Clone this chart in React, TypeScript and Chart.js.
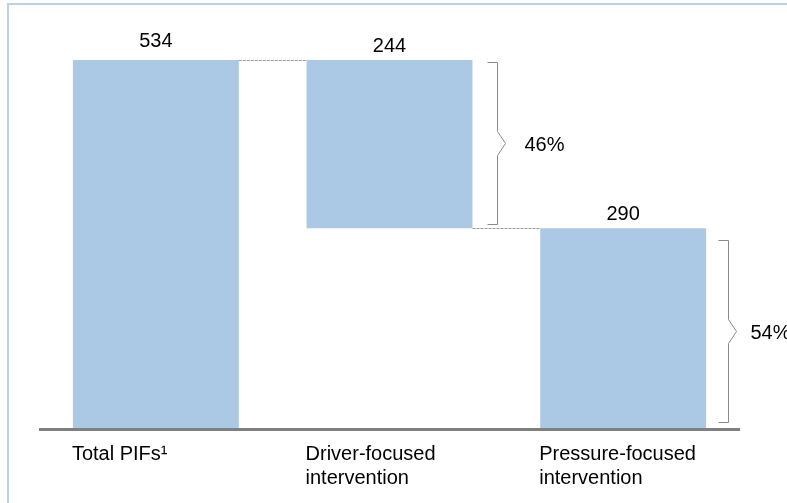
import React, { useEffect, useRef } from "react";
import { Chart, registerables } from "chart.js";

Chart.register(...registerables);

// ---- data ----
const categoryLines: string[][] = [
  ["Total PIFs¹"],
  ["Driver-focused", "intervention"],
  ["Pressure-focused", "intervention"],
];
const categories = categoryLines.map((l) => l.join(" "));
const values = [534, 244, 290];
const valueLabels = ["534", "244", "290"];

const total = values[0];
const ranges: [number, number][] = [
  [0, total],
  [total - values[1], total],
  [0, values[2]],
];
const shareLabels = values.map((v) => Math.round((v / total) * 100) + "%");

const FONT = '20px "Liberation Sans", Arial, sans-serif';

const overlay = {
  id: "overlay",
  beforeDraw(chart: any) {
    const ctx = chart.ctx;
    ctx.save();
    ctx.strokeStyle = "#b9d1ea";
    ctx.lineWidth = 2;
    ctx.strokeRect(8, 4, 900, 700);
    ctx.restore();
  },
  afterDatasetsDraw(chart: any) {
    const ctx = chart.ctx;
    const bars = chart.getDatasetMeta(0).data;
    const area = chart.chartArea;
    const yScale = chart.scales.y;
    ctx.save();

    // baseline
    const y0 = yScale.getPixelForValue(0);
    ctx.fillStyle = "#808080";
    ctx.fillRect(area.left, Math.round(y0), area.right - area.left, 3);

    // dashed connectors
    ctx.strokeStyle = "#9a9a9a";
    ctx.lineWidth = 1;
    ctx.setLineDash([3, 1]);
    for (let i = 0; i < bars.length - 1; i++) {
      const a = bars[i];
      const b = bars[i + 1];
      const yy = Math.round(yScale.getPixelForValue(ranges[i + 1][1])) + 0.5;
      ctx.beginPath();
      ctx.moveTo(a.x + a.width / 2, yy);
      ctx.lineTo(b.x - b.width / 2, yy);
      ctx.stroke();
    }
    ctx.setLineDash([]);

    // value labels
    ctx.fillStyle = "#000";
    ctx.font = FONT;
    ctx.textAlign = "center";
    ctx.textBaseline = "alphabetic";
    const valueOffsets = [13, 8, 8];
    bars.forEach((bar: any, i: number) => {
      ctx.fillText(valueLabels[i], bar.x, bar.y - valueOffsets[i]);
    });

    // brackets with share labels
    const bracketGap = [0, 25, 22];
    const insetTop = [0, 2, 12];
    const insetBottom = [0, 4, 6];
    const textGap = [0, 27, 22];
    ctx.strokeStyle = "#8a8a8a";
    ctx.lineWidth = 1;
    for (let i = 1; i < bars.length; i++) {
      const bar = bars[i];
      const x = Math.round(bar.x + bar.width / 2 + bracketGap[i]) + 0.5;
      const top = Math.round(bar.y + insetTop[i]) + 0.5;
      const bottom = Math.round(bar.base - insetBottom[i]) + 0.5;
      const mid = (top + bottom) / 2;
      ctx.beginPath();
      ctx.moveTo(x - 10, top);
      ctx.lineTo(x, top);
      ctx.lineTo(x, mid - 12);
      ctx.lineTo(x + 8, mid);
      ctx.lineTo(x, mid + 12);
      ctx.lineTo(x, bottom);
      ctx.lineTo(x - 10, bottom);
      ctx.stroke();
      ctx.textAlign = "left";
      ctx.fillText(shareLabels[i], x + textGap[i], mid + 7);
    }

    // category labels, left aligned with bar
    ctx.textAlign = "left";
    bars.forEach((bar: any, i: number) => {
      const left = bar.x - bar.width / 2 - 1;
      categoryLines[i].forEach((line, j) => {
        ctx.fillText(line, left, 460 + j * 24);
      });
    });

    ctx.restore();
  },
};

export default function App() {
  const ref = useRef<HTMLCanvasElement>(null);
  useEffect(() => {
    if (!ref.current) return;
    const chart = new Chart(ref.current, {
      type: "bar",
      data: {
        labels: categories,
        datasets: [
          {
            data: ranges as any,
            backgroundColor: "#abc9e4",
            borderWidth: 0,
            barPercentage: 0.71,
            categoryPercentage: 1,
          },
        ],
      },
      options: {
        responsive: false,
        animation: false,
        layout: { padding: { top: 60, bottom: 75, left: 39, right: 47 } },
        plugins: {
          legend: { display: false },
          tooltip: { enabled: false },
          title: { display: false },
        },
        scales: {
          x: { display: false },
          y: { display: false, min: 0, max: total },
        },
      },
      plugins: [overlay],
    });
    return () => chart.destroy();
  }, []);
  return (
    <div style={{ position: "absolute", left: 0, top: 0, width: 787, height: 503, background: "#fff" }}>
      <canvas ref={ref} width={787} height={503} style={{ display: "block" }} />
    </div>
  );
}
